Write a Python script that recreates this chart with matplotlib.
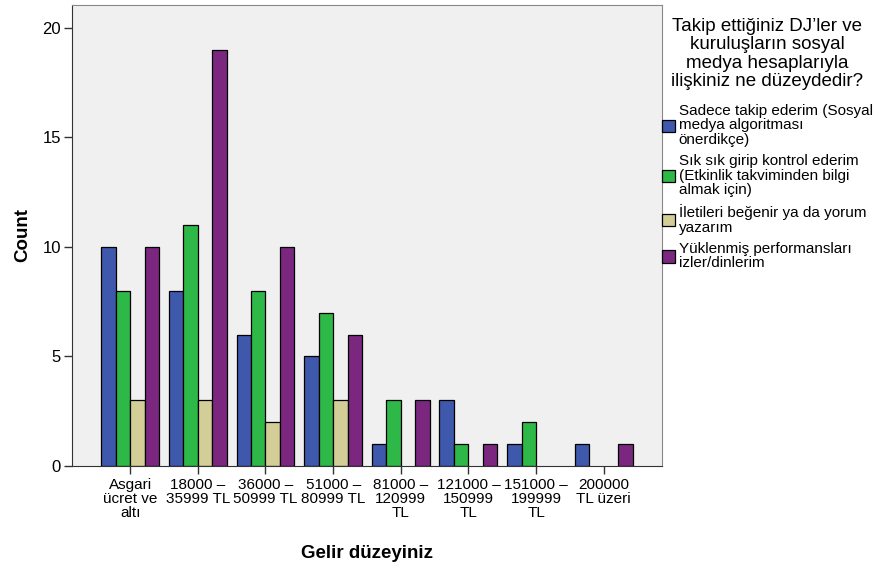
#!/usr/bin/env python
# python3
"""
    Gelir duzeyi x sosyal medya iliskisi - clustered bar chart (SPSS style)
"""
import numpy as np
import matplotlib.pyplot as plt
from matplotlib import rc
rc("font", size=10, family=['Liberation Sans', 'DejaVu Sans'])

# income groups (x axis)
groups = ['Asgari\nücret ve\naltı', '18000 –\n35999 TL', '36000 –\n50999 TL',
          '51000 –\n80999 TL', '81000 –\n120999\nTL', '121000 –\n150999\nTL',
          '151000 –\n199999\nTL', '200000\nTL üzeri']

# counts per answer
sadece = [10, 8, 6, 5, 1, 3, 1, 1]
sik_sik = [8, 11, 8, 7, 3, 1, 2, 0]
iletiler = [3, 3, 2, 3, 0, 0, 0, 0]
yuklenmis = [10, 19, 10, 6, 3, 1, 0, 1]

series = [sadece, sik_sik, iletiler, yuklenmis]
labels = ['Sadece takip ederim (Sosyal\nmedya algoritması\nönerdikçe)',
          'Sık sık girip kontrol ederim\n(Etkinlik takviminden bilgi\nalmak için)',
          'İletileri beğenir ya da yorum\nyazarım',
          'Yüklenmiş performansları\nizler/dinlerim']
colors = ['#3e58ac', '#2eb848', '#d3ce97', '#7b277f']
legend_title = ('Takip ettiğiniz DJ’ler ve\nkuruluşların sosyal\n'
                'medya hesaplarıyla\nilişkiniz ne düzeydedir?')

fig = plt.figure(figsize=(8.8, 5.7), dpi=100)
ax = fig.add_axes([0.082, 0.1825, 0.670, 0.8095])
ax.set_facecolor('#f0f0f0')

x = np.arange(len(groups))
w = 0.214
for i in range(4):
    bars = ax.bar(x + (i - 1.5) * w, series[i], width=w, color=colors[i],
                  edgecolor='black', linewidth=0.9, label=labels[i], zorder=2)
    # SPSS draws nothing for empty cells
    for rect, v in zip(bars, series[i]):
        if v == 0:
            rect.set_visible(False)

ax.set_xlim(-0.857, 7.857)
ax.set_ylim(0, 21.07)
ax.set_yticks([0, 5, 10, 15, 20])
ax.set_xticks(x)
ax.set_xticklabels(groups, fontsize=11, linespacing=1.0)
ax.tick_params(axis='y', labelsize=12, length=6, width=1, color='#333333', pad=2)
ax.tick_params(axis='x', length=6, width=1, color='#333333', pad=3)

for s in ['top', 'right']:
    ax.spines[s].set_color('#888888')
for s in ['left', 'bottom']:
    ax.spines[s].set_color('#333333')

ax.set_xlabel('Gelir düzeyiniz', fontsize=13.5, fontweight='bold', labelpad=18)
ax.set_ylabel('Count', fontsize=13.5, fontweight='bold', labelpad=8)

leg = ax.legend(loc='upper left', bbox_to_anchor=(0.752, 0.969),
                bbox_transform=fig.transFigure, frameon=False,
                title=legend_title, title_fontsize=13.5, fontsize=11,
                handlelength=0.85, handleheight=0.85, handletextpad=0.25,
                labelspacing=0.5, borderaxespad=0, borderpad=0)
for t in leg.get_texts():
    t.set_linespacing(1.02)
leg.get_title().set_multialignment('center')
leg.get_title().set_linespacing(1.12)
leg._legend_box.sep = 10  # gap between title and entries

plt.savefig('out.png', dpi=100)
